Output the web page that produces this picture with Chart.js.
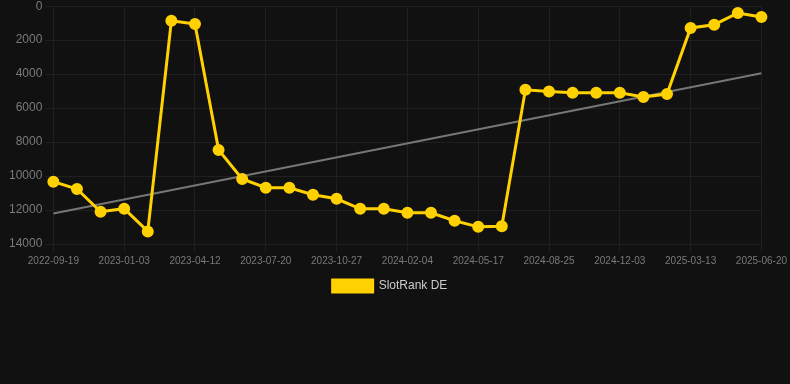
<!DOCTYPE html>
<html>
<head>
<meta charset="utf-8">
<script src="https://cdn.jsdelivr.net/npm/chart.js@4/dist/chart.umd.min.js"></script>
<style>
  html, body { margin: 0; padding: 0; background: #111111; overflow: hidden; }
  #wrap { position: relative; width: 790px; height: 306px; margin-top: -4px; }
</style>
</head>
<body>
<div id="wrap"><canvas id="c"></canvas></div>
<script>
const categories = [
  '2022-09-19','2022-10-24','2022-11-28','2023-01-03','2023-02-05','2023-03-10',
  '2023-04-12','2023-05-15','2023-06-17','2023-07-20','2023-08-22','2023-09-24',
  '2023-10-27','2023-11-29','2024-01-01','2024-02-04','2024-03-08','2024-04-13',
  '2024-05-17','2024-06-19','2024-07-22','2024-08-25','2024-09-27','2024-10-30',
  '2024-12-03','2025-01-05','2025-02-08','2025-03-13','2025-04-15','2025-05-18',
  '2025-06-20'
];
const rankValues = [
  10330, 10760, 12100, 11920, 13260, 860, 1050, 8460, 10170, 10690, 10690, 11100,
  11340, 11930, 11930, 12160, 12160, 12630, 12990, 12950, 4920, 5020, 5090, 5090,
  5090, 5350, 5170, 1280, 1090, 400, 630
];
const trendStart = 12200;
const trendEnd = 3950;
const yTicks = [0, 2000, 4000, 6000, 8000, 10000, 12000, 14000];

const gridCol = '#1f1f1f';

new Chart(document.getElementById('c'), {
  type: 'line',
  data: {
    labels: categories,
    datasets: [
      {
        label: 'SlotRank DE',
        data: rankValues,
        borderColor: '#FFD100',
        backgroundColor: '#FFD100',
        borderWidth: 3,
        pointRadius: 4.5,
        pointHoverRadius: 4.5,
        tension: 0
      },
      {
        label: 'trend',
        data: [
          { x: categories[0], y: trendStart },
          { x: categories[categories.length - 1], y: trendEnd }
        ],
        borderColor: '#777777',
        backgroundColor: '#777777',
        borderWidth: 2,
        pointRadius: 0,
        tension: 0
      }
    ]
  },
  options: {
    responsive: true,
    maintainAspectRatio: false,
    animation: false,
    layout: { padding: { left: 6, right: 16 } },
    plugins: {
      legend: {
        position: 'bottom',
        labels: {
          color: '#cccccc',
          font: { family: 'Arial, "Liberation Sans", sans-serif', size: 12 },
          boxWidth: 40,
          boxHeight: 12,
          filter: (item) => item.datasetIndex === 0
        }
      },
      tooltip: { enabled: false }
    },
    scales: {
      x: {
        grid: {
          color: (ctx) => (ctx.index % 3 === 0 ? gridCol : 'rgba(0,0,0,0)'),
          tickColor: (ctx) => (ctx.index % 3 === 0 ? gridCol : 'rgba(0,0,0,0)')
        },
        border: { color: gridCol },
        ticks: {
          color: '#7a7a7a',
          font: { family: 'Arial, "Liberation Sans", sans-serif', size: 10 },
          autoSkip: false,
          maxRotation: 0,
          callback: function(value, index) {
            return index % 3 === 0 ? categories[index] : '';
          }
        }
      },
      y: {
        reverse: true,
        min: yTicks[0],
        max: yTicks[yTicks.length - 1],
        grid: { color: gridCol, tickColor: gridCol },
        border: { color: gridCol },
        afterBuildTicks: (axis) => { axis.ticks = yTicks.map(v => ({ value: v })); },
        ticks: {
          color: '#7a7a7a',
          font: { family: 'Arial, "Liberation Sans", sans-serif', size: 12 },
          callback: (v) => String(v)
        }
      }
    }
  }
});
</script>
</body>
</html>
